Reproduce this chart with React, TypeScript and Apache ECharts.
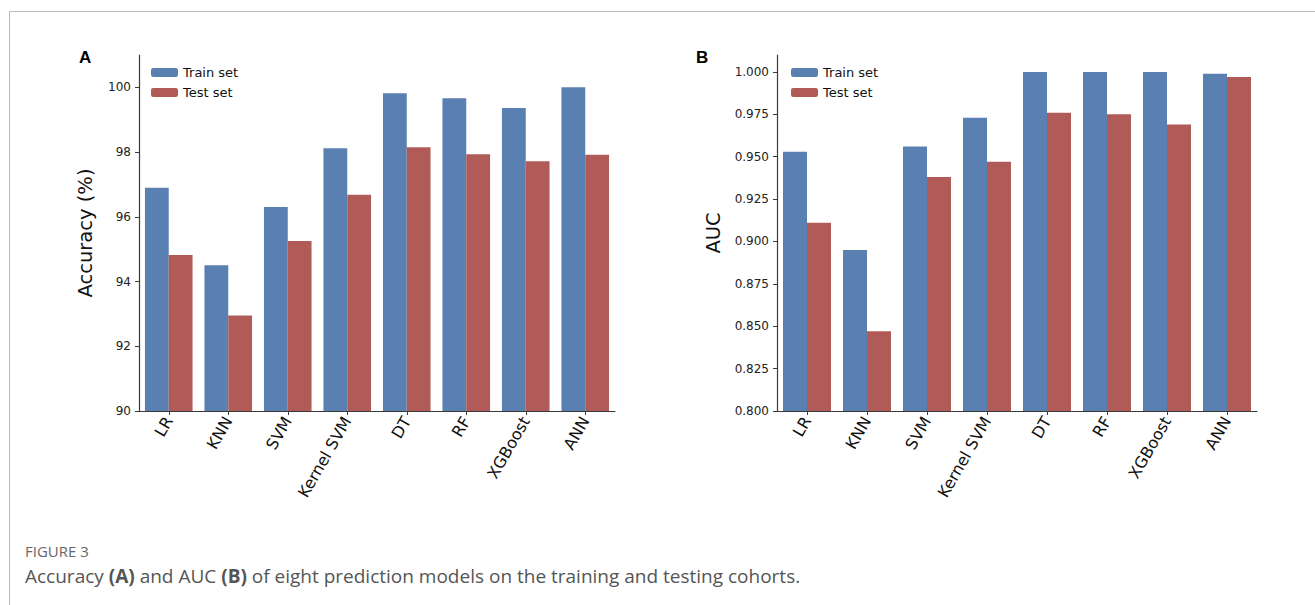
import React, { useEffect, useRef } from "react";
import * as echarts from "echarts";

const categories = ["LR", "KNN", "SVM", "Kernel SVM", "DT", "RF", "XGBoost", "ANN"];
const accTrain = [96.9, 94.5, 96.3, 98.12, 99.82, 99.66, 99.36, 100.0];
const accTest = [94.82, 92.95, 95.25, 96.68, 98.15, 97.93, 97.72, 97.92];
const aucTrain = [0.953, 0.895, 0.956, 0.973, 1.0, 1.0, 1.0, 0.999];
const aucTest = [0.911, 0.847, 0.938, 0.947, 0.976, 0.975, 0.969, 0.997];
const accTicks = [90, 92, 94, 96, 98, 100];
const aucTicks = [0.8, 0.825, 0.85, 0.875, 0.9, 0.925, 0.95, 0.975, 1.0];
const seriesNames = ["Train set", "Test set"];

const BLUE = "#5a7fb1";
const RED = "#b05b57";
const FONT = "DejaVu Sans";

export default function App() {
  const ref = useRef<HTMLDivElement>(null);
  useEffect(() => {
    const chart = echarts.init(ref.current!, null, { renderer: "svg" });
    const xAxisBase = (gridIndex: number) => ({
      type: "category",
      gridIndex,
      data: categories,
      axisLine: { lineStyle: { color: "#3a3a3a", width: 1.2 } },
      axisTick: { show: true, alignWithLabel: true, length: 4, lineStyle: { color: "#3a3a3a" } },
      axisLabel: { rotate: 60, fontSize: 16, color: "#111", fontFamily: FONT, margin: 7, interval: 0 },
    });
    const yAxisBase = (gridIndex: number) => ({
      type: "value",
      gridIndex,
      nameLocation: "middle",
      nameTextStyle: { fontSize: 19.5, color: "#111", fontFamily: FONT },
      splitLine: { show: false },
      axisLine: { show: true, lineStyle: { color: "#3a3a3a", width: 1.2 } },
      axisTick: { show: true, length: 4, lineStyle: { color: "#3a3a3a" } },
    });
    const legendBase = (left: number) => ({
      left, top: 61, orient: "vertical", itemWidth: 27, itemHeight: 9, itemGap: 7,
      data: seriesNames,
      textStyle: { fontSize: 13, color: "#111", fontFamily: FONT },
      selectedMode: false,
    });
    chart.setOption({
      animation: false,
      backgroundColor: "#fff",
      grid: [
        { left: 139, top: 55, width: 476, height: 356 },
        { left: 777, top: 55, width: 480, height: 356 },
      ],
      legend: [legendBase(146), legendBase(786)],
      xAxis: [xAxisBase(0), xAxisBase(1)],
      yAxis: [
        {
          ...yAxisBase(0),
          name: "Accuracy (%)",
          nameGap: 44,
          min: 90,
          max: 101,
          axisTick: { show: true, length: 4, lineStyle: { color: "#3a3a3a" }, customValues: accTicks },
          axisLabel: { customValues: accTicks, fontSize: 12, color: "#222", fontFamily: FONT, margin: 8 },
        },
        {
          ...yAxisBase(1),
          name: "AUC",
          nameGap: 54,
          min: 0.8,
          max: 1.01,
          axisTick: { show: true, length: 4, lineStyle: { color: "#3a3a3a" }, customValues: aucTicks },
          axisLabel: {
            customValues: aucTicks,
            fontSize: 12,
            color: "#222",
            fontFamily: FONT,
            margin: 8,
            formatter: (v: number) => v.toFixed(3),
          },
        },
      ],
      series: [
        { name: seriesNames[0], type: "bar", xAxisIndex: 0, yAxisIndex: 0, data: accTrain, itemStyle: { color: BLUE }, barGap: "0%", barCategoryGap: "20%" },
        { name: seriesNames[1], type: "bar", xAxisIndex: 0, yAxisIndex: 0, data: accTest, itemStyle: { color: RED }, barGap: "0%", barCategoryGap: "20%" },
        { name: seriesNames[0], type: "bar", xAxisIndex: 1, yAxisIndex: 1, data: aucTrain, itemStyle: { color: BLUE }, barGap: "0%", barCategoryGap: "20%" },
        { name: seriesNames[1], type: "bar", xAxisIndex: 1, yAxisIndex: 1, data: aucTest, itemStyle: { color: RED }, barGap: "0%", barCategoryGap: "20%" },
      ],
      graphic: [
        {
          type: "rect",
          shape: { x: 9.5, y: 11.5, width: 1400, height: 700 },
          style: { fill: "none", stroke: "#b8b8b8", lineWidth: 1 },
          silent: true,
        },
        { type: "text", left: 79, top: 49, style: { text: "A", font: "bold 17px Arial, 'Liberation Sans'", fill: "#000" } },
        { type: "text", left: 696, top: 49, style: { text: "B", font: "bold 17px Arial, 'Liberation Sans'", fill: "#000" } },
        {
          type: "text", left: 25, top: 543,
          style: { text: "FIGURE 3", font: "15px 'Open Sans'", fill: "#666" },
        },
        {
          type: "text", left: 25, top: 566,
          style: {
            text: "Accuracy {b|(A)} and AUC {b|(B)} of eight prediction models on the training and testing cohorts.",
            font: "19px 'Open Sans'",
            fill: "#555",
            rich: { b: { fontWeight: "bold", fontSize: 19, fontFamily: "Open Sans", fill: "#555" } },
          },
        },
      ],
    });
    return () => chart.dispose();
  }, []);
  return (
    <div
      ref={ref}
      style={{ position: "fixed", left: 0, top: 0, width: 1315, height: 605, background: "#fff" }}
    />
  );
}
